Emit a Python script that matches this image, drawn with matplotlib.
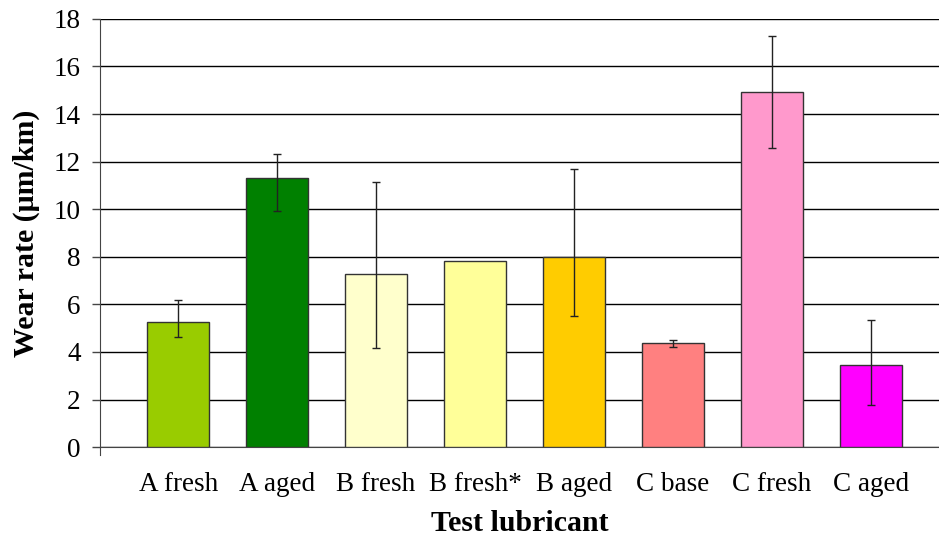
import matplotlib.pyplot as plt
import numpy as np

labels = ["A fresh", "A aged", "B fresh", "B fresh*", "B aged", "C base", "C fresh", "C aged"]
wear = [5.27, 11.30, 7.27, 7.83, 8.00, 4.37, 14.92, 3.46]
err_low = [0.64, 1.36, 3.11, 0.0, 2.48, 0.15, 2.36, 1.69]
err_high = [0.91, 1.03, 3.87, 0.0, 3.69, 0.13, 2.35, 1.87]
colors = ["#99CC00", "#008000", "#FFFFCC", "#FFFF99", "#FFCC00", "#FF8080", "#FF99CC", "#FF00FF"]

plt.rcParams['font.family'] = ['Liberation Serif', 'DejaVu Serif']

fig = plt.figure(figsize=(9.39, 5.4), dpi=100)
ax = fig.add_axes([0.1065, 0.172, 0.8935, 0.793])

x = np.arange(len(labels))
ax.bar(x, wear, width=0.63, color=colors, edgecolor="#333333", linewidth=1, zorder=3)

# error bars (B fresh* has none)
has_err = [i for i in x if err_low[i] + err_high[i] > 0]
ax.errorbar(x[has_err], np.array(wear)[has_err],
            yerr=[np.array(err_low)[has_err], np.array(err_high)[has_err]],
            fmt="none", ecolor="#222222", elinewidth=1, capsize=3, capthick=1, zorder=4)

ax.set_ylim(0, 18)
ax.set_xlim(-0.79, 7.69)
ax.set_yticks(np.arange(0, 19, 2))
ax.yaxis.grid(True, color="black", linewidth=1, zorder=0)
ax.set_axisbelow(True)
for s in ["top", "right"]:
    ax.spines[s].set_visible(False)
ax.spines["left"].set_bounds(-0.35, 18)
ax.spines["left"].set_color("#444444")
ax.spines["bottom"].set_color("#444444")

ax.set_xticks(x)
ax.set_xticklabels(labels, fontsize=19.5)
ax.tick_params(axis="x", length=0, pad=18)
ax.tick_params(axis="y", length=5.8, width=1, labelsize=19.5, pad=8, color="#444444")

ax.set_ylabel("Wear rate (μm/km)", fontsize=21.5, fontweight="bold", labelpad=10)
ax.set_xlabel("Test lubricant", fontsize=21.5, fontweight="bold", labelpad=9)

fig.savefig("out.png", dpi=100)
